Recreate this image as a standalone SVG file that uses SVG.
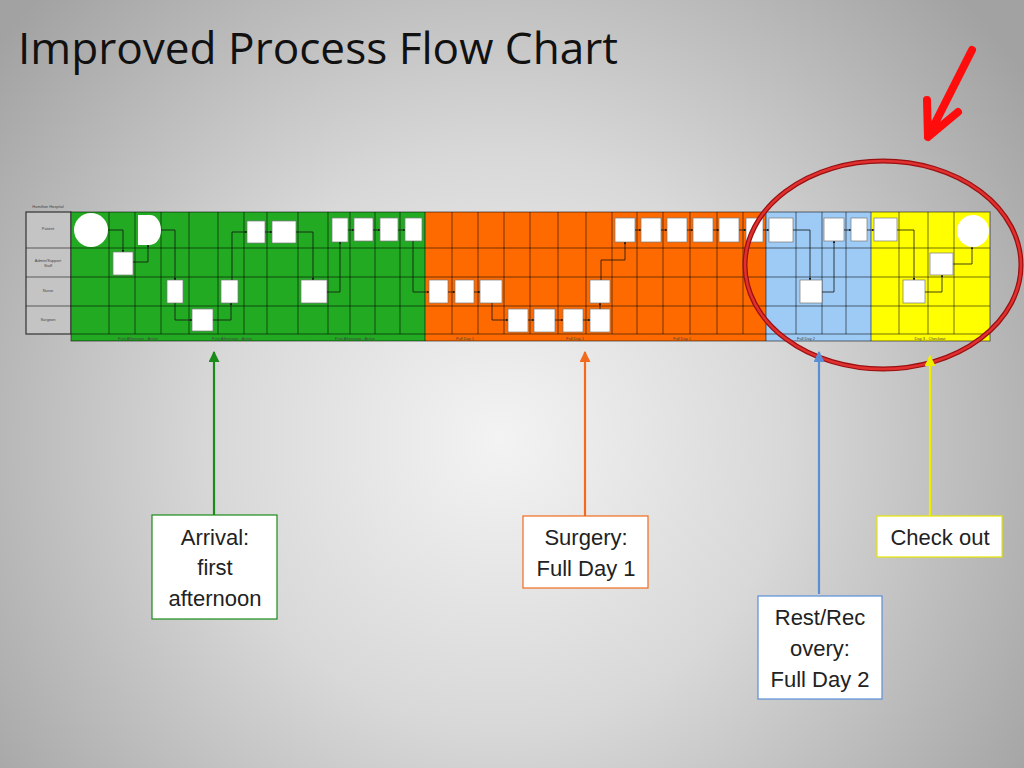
<svg xmlns="http://www.w3.org/2000/svg" width="1024" height="768" viewBox="0 0 1024 768">
<defs>
<radialGradient id="bg" cx="500" cy="440" r="640" gradientUnits="userSpaceOnUse">
<stop offset="0" stop-color="#f3f3f3"/>
<stop offset="0.45" stop-color="#d8d8d8"/>
<stop offset="1" stop-color="#a2a2a2"/>
</radialGradient>
<marker id="ah" viewBox="0 0 10 10" refX="9" refY="5" markerWidth="3" markerHeight="3" orient="auto"><path d="M0,0 L10,5 L0,10 z" fill="#111"/></marker>
<marker id="agr" viewBox="0 0 10 10" refX="9" refY="5" markerWidth="5" markerHeight="5" orient="auto"><path d="M0,0 L10,5 L0,10 z" fill="#1a8a1a"/></marker>
<marker id="aor" viewBox="0 0 10 10" refX="9" refY="5" markerWidth="5" markerHeight="5" orient="auto"><path d="M0,0 L10,5 L0,10 z" fill="#f26b1d"/></marker>
<marker id="abl" viewBox="0 0 10 10" refX="9" refY="5" markerWidth="5" markerHeight="5" orient="auto"><path d="M0,0 L10,5 L0,10 z" fill="#5a8fd8"/></marker>
<marker id="aye" viewBox="0 0 10 10" refX="9" refY="5" markerWidth="5" markerHeight="5" orient="auto"><path d="M0,0 L10,5 L0,10 z" fill="#eeee00"/></marker>
</defs>
<style>
.title{font-family:"Open Sans","Liberation Sans",sans-serif;font-size:44px;fill:#111}
.lbl{font-family:"Liberation Sans",Arial,sans-serif;font-size:22px;fill:#222;text-anchor:middle}
.tiny{font-family:"Liberation Sans",Arial,sans-serif;font-size:4px;fill:#444;text-anchor:middle}
.grid{stroke:#000;stroke-opacity:0.55;stroke-width:1;fill:none}
.box{fill:#fff;stroke:#7a7a7a;stroke-width:0.7}
.con{fill:none;stroke:#111;stroke-width:0.8;marker-end:url(#ah)}
</style>
<rect width="1024" height="768" fill="url(#bg)"/>
<text class="title" x="18" y="64" textLength="600" lengthAdjust="spacingAndGlyphs">Improved Process Flow Chart</text>

<g id="chart">
<rect x="26" y="212" width="45" height="122" fill="#c4c4c4" stroke="#333" stroke-width="1.2"/>
<line class="grid" x1="26" y1="248" x2="71" y2="248"/>
<line class="grid" x1="26" y1="277" x2="71" y2="277"/>
<line class="grid" x1="26" y1="306" x2="71" y2="306"/>
<text class="tiny" x="48" y="208">Hamilton Hospital</text>
<text class="tiny" x="48" y="230">Patient</text>
<text class="tiny" x="48" y="262">Admin/Support</text>
<text class="tiny" x="48" y="267">Staff</text>
<text class="tiny" x="48" y="292">Nurse</text>
<text class="tiny" x="48" y="321">Surgeon</text>

<rect x="71" y="212" width="354" height="129" fill="#22aa22"/>
<rect x="425" y="212" width="341" height="129" fill="#ff6a00"/>
<rect x="766" y="212" width="105" height="129" fill="#9ecbf5"/>
<rect x="871" y="212" width="119" height="129" fill="#ffff00"/>
<rect x="71" y="212" width="919" height="129" class="grid" stroke-width="1.2"/>
<line class="grid" x1="71" y1="248" x2="990" y2="248"/>
<line class="grid" x1="71" y1="277" x2="990" y2="277"/>
<line class="grid" x1="71" y1="306" x2="990" y2="306"/>
<line class="grid" x1="71" y1="334" x2="990" y2="334" stroke-width="1.3"/>
<path class="grid" d="M109,212V334M135,212V334M161,212V334M189,212V334M218,212V334M244,212V334M267,212V334M298,212V334M328,212V334M350,212V334M375,212V334M400,212V334M425,212V341M452,212V334M478,212V334M504,212V334M530,212V334M558,212V334M586,212V334M612,212V334M637,212V334M663,212V334M690,212V334M717,212V334M743,212V334M766,212V341M796,212V334M822,212V334M846,212V334M871,212V341M899,212V334M928,212V334M954,212V334"/>
<text class="tiny" x="138" y="339.5">First Afternoon - Arrive</text>
<text class="tiny" x="232" y="339.5">First Afternoon - Arrive</text>
<text class="tiny" x="355" y="339.5">First Afternoon - Arrive</text>
<text class="tiny" x="465" y="339.5">Full Day 1</text>
<text class="tiny" x="575" y="339.5">Full Day 1</text>
<text class="tiny" x="682" y="339.5">Full Day 1</text>
<text class="tiny" x="806" y="339.5">Full Day 2</text>
<text class="tiny" x="930" y="339.5">Day 3 - Checkout</text>
</g>

<g id="nodes">
<circle id="n1" cx="91" cy="230" r="17" fill="#fff"/>
<rect id="n2" class="box" x="113" y="252" width="20" height="23"/>
<path id="n3" d="M138,215 H150 A11,15 0 0 1 150,245 H138 Z" fill="#fff"/>
<rect id="n4" class="box" x="167" y="280" width="16" height="23"/>
<rect id="n5" class="box" x="192" y="309" width="21" height="22"/>
<rect id="n6" class="box" x="221" y="280" width="17" height="23"/>
<rect id="n7" class="box" x="247" y="221" width="18" height="22"/>
<rect id="n8" class="box" x="272" y="221" width="24" height="22"/>
<rect id="n9" class="box" x="301" y="280" width="26" height="23"/>
<rect id="n10" class="box" x="332" y="218" width="16" height="24"/>
<rect id="n11" class="box" x="354" y="218" width="19" height="23"/>
<rect id="n12" class="box" x="380" y="218" width="18" height="23"/>
<rect id="n13" class="box" x="405" y="218" width="17" height="23"/>
<rect id="n14" class="box" x="429" y="280" width="19" height="23"/>
<rect id="n15" class="box" x="455" y="280" width="19" height="23"/>
<rect id="n16" class="box" x="480" y="280" width="22" height="23"/>
<rect id="n17" class="box" x="508" y="309" width="20" height="23"/>
<rect id="n18" class="box" x="534" y="309" width="21" height="23"/>
<rect id="n19" class="box" x="563" y="309" width="20" height="23"/>
<rect id="n20" class="box" x="590" y="309" width="20" height="23"/>
<rect id="n21" class="box" x="590" y="280" width="20" height="23"/>
<rect id="n22" class="box" x="615" y="218" width="20" height="24"/>
<rect id="n23" class="box" x="641" y="218" width="20" height="24"/>
<rect id="n24" class="box" x="667" y="218" width="20" height="24"/>
<rect id="n25" class="box" x="693" y="218" width="20" height="24"/>
<rect id="n26" class="box" x="719" y="218" width="20" height="24"/>
<rect id="n27" class="box" x="746" y="218" width="17" height="24"/>
<rect id="n28" class="box" x="769" y="218" width="24" height="24"/>
<rect id="n29" class="box" x="800" y="280" width="22" height="23"/>
<rect id="n30" class="box" x="824" y="218" width="20" height="23"/>
<rect id="n31" class="box" x="851" y="218" width="16" height="23"/>
<rect id="n32" class="box" x="874" y="218" width="23" height="23"/>
<rect id="n33" class="box" x="903" y="280" width="22" height="23"/>
<rect id="n34" class="box" x="930" y="253" width="23" height="22"/>
<circle id="n35" cx="973" cy="231" r="16" fill="#fff"/>
</g>

<g id="connectors">
<path class="con" d="M108,230 H123 V252"/>
<path class="con" d="M133,262 H148 V245"/>
<path class="con" d="M161,230 H175 V280"/>
<path class="con" d="M175,303 V320 H192"/>
<path class="con" d="M213,320 H231 V303"/>
<path class="con" d="M232,280 V232 H247"/>
<path class="con" d="M265,232 H272"/>
<path class="con" d="M296,232 H313 V280"/>
<path class="con" d="M327,292 H340 V242"/>
<path class="con" d="M348,230 H354"/>
<path class="con" d="M373,230 H380"/>
<path class="con" d="M398,230 H405"/>
<path class="con" d="M413,241 V292 H429"/>
<path class="con" d="M448,292 H455"/>
<path class="con" d="M474,292 H480"/>
<path class="con" d="M492,303 V320 H508"/>
<path class="con" d="M528,320 H534"/>
<path class="con" d="M555,320 H563"/>
<path class="con" d="M583,320 H590"/>
<path class="con" d="M600,309 V303"/>
<path class="con" d="M601,280 V260 H625 V242"/>
<path class="con" d="M635,230 H641"/>
<path class="con" d="M661,230 H667"/>
<path class="con" d="M687,230 H693"/>
<path class="con" d="M713,230 H719"/>
<path class="con" d="M739,230 H746"/>
<path class="con" d="M763,230 H769"/>
<path class="con" d="M793,230 H810 V280"/>
<path class="con" d="M822,292 H834 V241"/>
<path class="con" d="M844,230 H851"/>
<path class="con" d="M867,230 H874"/>
<path class="con" d="M897,230 H914 V280"/>
<path class="con" d="M925,292 H942 V275"/>
<path class="con" d="M953,264 H972 V247"/>
</g>

<g id="highlight">
<ellipse cx="883" cy="265" rx="138" ry="104" fill="none" stroke="#9a1010" stroke-width="5"/>
<ellipse cx="883" cy="265" rx="138" ry="104" fill="none" stroke="#e03030" stroke-width="2.5"/>
<path d="M972,50 L928,137 M927,100 L928,137 L958,112" fill="none" stroke="#ff0d0d" stroke-width="8" stroke-linecap="round" stroke-linejoin="round"/>
</g>

<g id="callouts">
<line x1="214" y1="515" x2="214" y2="352" stroke="#1a8a1a" stroke-width="2.2" marker-end="url(#agr)"/>
<line x1="585" y1="516" x2="585" y2="352" stroke="#f26b1d" stroke-width="2.2" marker-end="url(#aor)"/>
<line x1="819" y1="594" x2="819" y2="352" stroke="#5a8fd8" stroke-width="2.2" marker-end="url(#abl)"/>
<line x1="930" y1="516" x2="930" y2="356" stroke="#eeee00" stroke-width="2.2" marker-end="url(#aye)"/>
</g>

<g id="arrival">
<rect x="152" y="515" width="125" height="104" fill="#fff" stroke="#1a8a1a" stroke-width="1.2"/>
<text class="lbl" x="215" y="545">Arrival:</text>
<text class="lbl" x="215" y="575">first</text>
<text class="lbl" x="215" y="606">afternoon</text>
</g>
<g id="surgery">
<rect x="523" y="516" width="125" height="72" fill="#fff" stroke="#f26b1d" stroke-width="1.2"/>
<text class="lbl" x="586" y="545">Surgery:</text>
<text class="lbl" x="586" y="576">Full Day 1</text>
</g>
<g id="rest">
<rect x="758" y="596" width="124" height="103" fill="#fff" stroke="#5a8fd8" stroke-width="1.2"/>
<text class="lbl" x="820" y="625">Rest/Rec</text>
<text class="lbl" x="820" y="656">overy:</text>
<text class="lbl" x="820" y="687">Full Day 2</text>
</g>
<g id="checkout">
<rect x="877" y="516" width="125" height="41" fill="#fff" stroke="#e6e600" stroke-width="1.2"/>
<text class="lbl" x="940" y="545">Check out</text>
</g>
</svg>
